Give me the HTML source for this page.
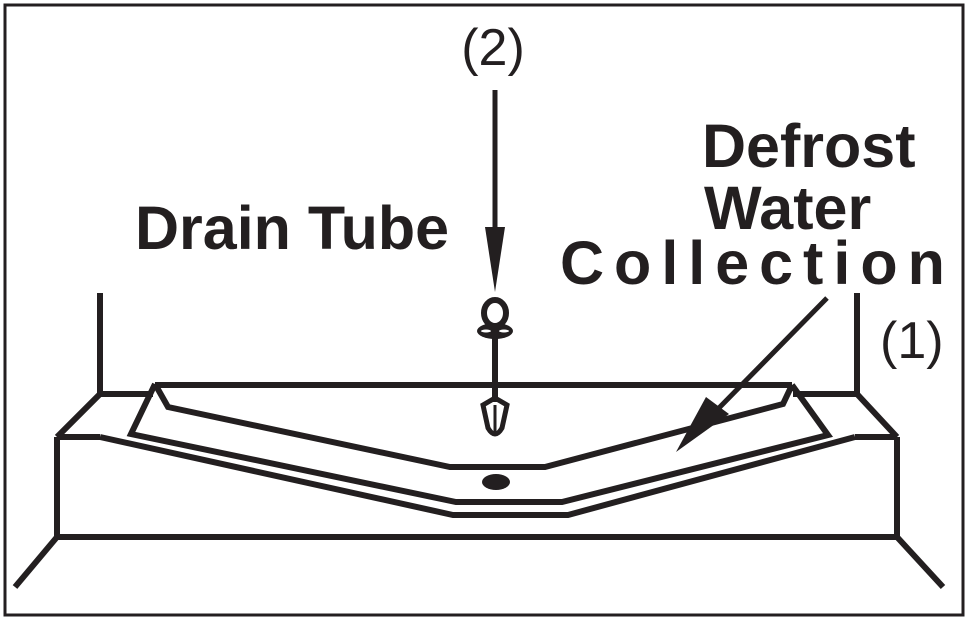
<!DOCTYPE html>
<html><head><meta charset="utf-8"><style>
html,body{margin:0;padding:0;background:#fff;}
svg{display:block;}
text{font-family:"Liberation Sans",Arial,sans-serif;fill:#231f20;}
</style></head><body>
<svg width="969" height="623" viewBox="0 0 969 623" xmlns="http://www.w3.org/2000/svg">
<rect x="5" y="5" width="958" height="610" fill="none" stroke="#231f20" stroke-width="3"/>
<g fill="none" stroke="#231f20" stroke-width="6" stroke-linejoin="miter">
<polyline points="100,293 100,394 153,394"/>
<polyline points="857,293 857,394 793,394"/>
<line x1="100" y1="394" x2="57" y2="437"/>
<line x1="857" y1="394" x2="897" y2="437"/>
<polyline points="57,437 57,537 897,537 897,437"/>
<line x1="57" y1="437" x2="100" y2="437"/>
<line x1="855" y1="437" x2="897" y2="437"/>
<line x1="57" y1="537" x2="15" y2="587"/>
<line x1="897" y1="537" x2="943" y2="587"/>
<polyline points="100,437 453,515 568,515 855,437"/>
<line x1="155" y1="385" x2="792" y2="385"/>
<polyline points="155,384 168,407 450,467 545,467 783,404 792,385"/>
<polyline points="155,384 131,434 456,502 562,502 828,435 792,385"/>
<line x1="495" y1="335" x2="495" y2="402"/>
<ellipse cx="495" cy="313" rx="11" ry="13"/>
</g>
<ellipse cx="495" cy="331" rx="18" ry="8" fill="#231f20"/>
<ellipse cx="486" cy="331" rx="5" ry="1.5" fill="#fff"/>
<ellipse cx="504" cy="331" rx="5" ry="1.5" fill="#fff"/>
<path d="M483,405 L495,398 L507,405 L502,428 Q495,440 488,428 Z" fill="none" stroke="#231f20" stroke-width="5"/>
<line x1="495" y1="405" x2="495" y2="432" stroke="#231f20" stroke-width="3"/>
<ellipse cx="496" cy="482" rx="14" ry="8" fill="#231f20"/>
<line x1="495" y1="90" x2="495" y2="235" stroke="#231f20" stroke-width="5"/>
<polygon points="485,227 505,227 495,292" fill="#231f20"/>
<line x1="827" y1="298" x2="715" y2="412" stroke="#231f20" stroke-width="5"/>
<polygon points="706,397 729,414 676,452" fill="#231f20"/>
<text x="493" y="65" font-size="52" text-anchor="middle">(2)</text>
<text x="880" y="358" font-size="52">(1)</text>
<text x="135" y="249" font-size="61" font-weight="bold">Drain Tube</text>
<text x="702" y="167" font-size="61" font-weight="bold">Defrost</text>
<text x="704" y="229" font-size="61" font-weight="bold">Water</text>
<text x="560" y="284" font-size="61" font-weight="bold" letter-spacing="10">Collection</text>
</svg>
</body></html>
